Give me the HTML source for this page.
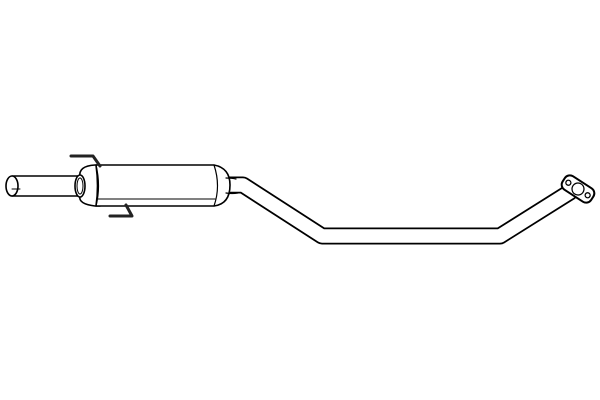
<!DOCTYPE html>
<html><head><style>html,body{margin:0;padding:0;background:#fff;width:600px;height:400px;overflow:hidden}</style></head>
<body>
<svg width="600" height="400" viewBox="0 0 600 400" xmlns="http://www.w3.org/2000/svg" fill="none" stroke-linejoin="round" stroke-linecap="round">
<g stroke="#ccc" stroke-width="1.5">
<path d="M270 210 a8 8 0 0 1 14 4"/>
<path d="M282 215 a4 4 0 1 0 8 2"/>
<path d="M358 231 a9 9 0 0 0 14 4"/>
<path d="M462 231 a9 9 0 0 0 14 4"/>
</g>
<path d="M228 185 L243 185 L322 236 L500 236 L570 192" stroke="#000" stroke-width="17"/>
<path d="M228 185 L243 185 L322 236 L500 236 L570 192" stroke="#fff" stroke-width="13.5"/>
<g transform="rotate(33 578 189)">
<rect x="561" y="181" width="34" height="16" rx="6" fill="#fff" stroke="#000" stroke-width="2"/>
<circle cx="566.5" cy="189" r="2.5" stroke="#000" stroke-width="1.3"/>
<circle cx="589.5" cy="189" r="2.5" stroke="#000" stroke-width="1.3"/>
<ellipse cx="578" cy="189" rx="6" ry="6" stroke="#000" stroke-width="1.2"/>
</g>
<path d="M12 176 L78 176 L78 196 L12 196" fill="#fff" stroke="#000" stroke-width="1.6"/>
<ellipse cx="12" cy="186" rx="6" ry="10" fill="#fff" stroke="#000" stroke-width="1.6"/>
<line x1="12" y1="189" x2="20" y2="189" stroke="#000" stroke-width="1"/>
<path d="M80 177 Q78 166 95 165 L100 165 L100 206 L95 206 Q78 204 80 196 Z" fill="#fff" stroke="#000" stroke-width="1.6"/>
<ellipse cx="80" cy="186" rx="5" ry="11" fill="#fff" stroke="#000" stroke-width="1.6"/>
<ellipse cx="80" cy="186" rx="3" ry="8" stroke="#000" stroke-width="1"/>
<path d="M96 165 L214 165 Q230 168 230 185 Q230 204 214 206 L96 206 Q99 186 96 165 Z" fill="#fff" stroke="#000" stroke-width="1.6"/>
<path d="M96 165 Q101 186 96 206" stroke="#000" stroke-width="1.2"/>
<path d="M214 165 Q221 186 214 206" stroke="#000" stroke-width="1.2"/>
<line x1="98" y1="199" x2="215" y2="199" stroke="#000" stroke-width="1"/>
<path d="M226 178 Q232 178 236 179 M226 193 Q232 194 238 193" stroke="#000" stroke-width="1.2"/>
<path d="M71 156 L93 156 L100 166" stroke="#222" stroke-width="3"/>
<path d="M110 216 L132 216 L126 205" stroke="#222" stroke-width="3"/>
</svg>
</body></html>
